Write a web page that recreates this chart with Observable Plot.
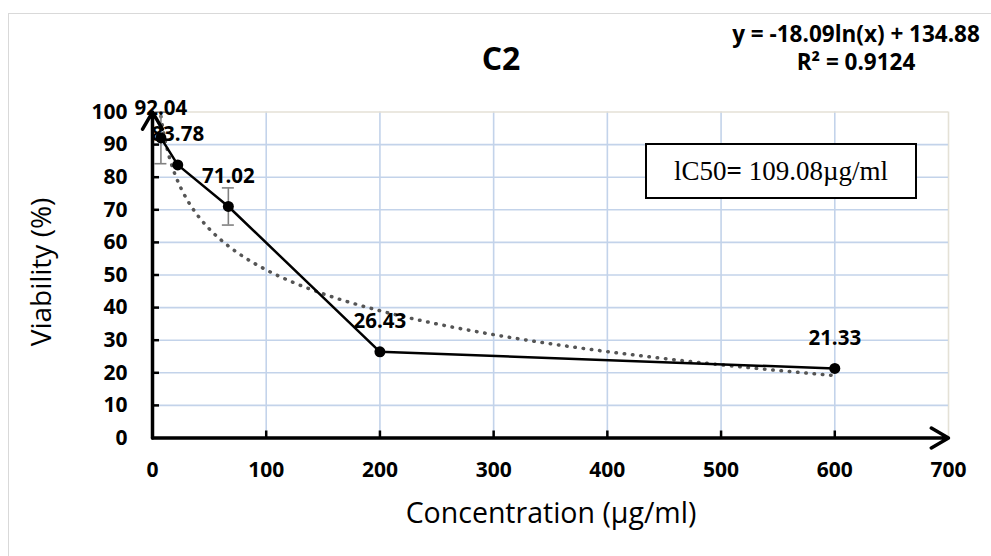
<!DOCTYPE html>
<html>
<head>
<meta charset="utf-8">
<script src="https://cdn.jsdelivr.net/npm/d3@7"></script>
<script src="https://cdn.jsdelivr.net/npm/@observablehq/plot@0.6"></script>
<style>
  html, body { margin: 0; padding: 0; background: #fff; overflow: hidden; }
  #wrap { position: relative; width: 991px; height: 556px; font-family: "Open Sans", sans-serif; color: #000; }
  #chart { position: absolute; left: 0; top: 0; }
  #border { position: absolute; left: 8px; top: 13px; width: 1100px; height: 700px; border: 1.5px solid #d9d9d9; pointer-events: none; }
  #title { position: absolute; left: 401px; width: 200px; top: 37px; line-height: 42px; text-align: center; font-size: 32px; font-weight: bold; }
  #eq { position: absolute; left: 706px; width: 300px; top: 20px; line-height: 28px; text-align: center; font-size: 22.5px; font-weight: bold; }
  #box { position: absolute; left: 645px; top: 143px; width: 272px; height: 56px; box-sizing: border-box; border: 2px solid #000; background: #fff;
         display: flex; align-items: center; justify-content: center; font-family: "Liberation Serif", serif; font-size: 27px; }
  #xlab { position: absolute; left: 301px; width: 500px; top: 493px; line-height: 38px; text-align: center; font-size: 28.5px; }
  #ylab { position: absolute; left: 40px; top: 272px; transform: translate(-50%, -50%) rotate(-90deg); white-space: nowrap; font-size: 28px; line-height: 38px; }
</style>
</head>
<body>
<div id="wrap">
  <div id="chart"></div>
  <div id="border"></div>
  <div id="title"></div>
  <div id="eq"></div>
  <div id="box"></div>
  <div id="xlab"></div>
  <div id="ylab"></div>
</div>
<script>
// ---- data ----
const concentrations = [7.4, 22.2, 66.7, 200, 600];
const viability = [92.04, 83.78, 71.02, 26.43, 21.33];
const errorBars = [7.9, 0, 5.7, 0, 0];
const xTicks = [0, 100, 200, 300, 400, 500, 600, 700];
const yTicks = [0, 10, 20, 30, 40, 50, 60, 70, 80, 90, 100];
// logarithmic trendline shown on the chart: y = -18.09 ln(x) + 134.88
const trendSlope = -18.09;
const trendIntercept = 134.88;
const trendR2 = 0.9124;
const trendX = [7.4, 9, 11, 13, 16, 20, 25, 30, 40, 50, 65, 80, 100, 125, 150, 200, 250, 300, 350, 400, 450, 500, 550, 600];
const chartTitle = "C2";
const xTitle = "Concentration (µg/ml)";
const yTitle = "Viability (%)";
const ic50 = "109.08";

const pts = concentrations.map((c, i) => ({x: c, y: viability[i], e: errorBars[i]}));
const errPts = pts.filter(d => d.e > 0);
const trend = trendX.map(x => ({x, y: trendSlope * Math.log(x) + trendIntercept}));

const blueGrid = "#c3d3ea";
const edgeGrid = "#e4e1d6";

const plot = Plot.plot({
  width: 991,
  height: 556,
  marginLeft: 152,
  marginRight: 43,
  marginTop: 111.5,
  marginBottom: 118.5,
  x: {domain: [xTicks[0], xTicks[xTicks.length - 1]]},
  y: {domain: [yTicks[0], yTicks[yTicks.length - 1]]},
  style: {background: "transparent", fontFamily: "'Open Sans', sans-serif", overflow: "visible", color: "#000"},
  marks: [
    Plot.ruleX(xTicks.slice(1, -1), {stroke: blueGrid, strokeWidth: 1.6}),
    Plot.ruleX(xTicks.slice(-1), {stroke: edgeGrid, strokeWidth: 1.6}),
    Plot.ruleY(yTicks.slice(1, -1), {stroke: blueGrid, strokeWidth: 1.6}),
    Plot.ruleY(yTicks.slice(-1), {stroke: edgeGrid, strokeWidth: 1.6}),
    Plot.axisX({ticks: xTicks, tickSize: 0, tickPadding: 24, fontSize: 21, fontWeight: "bold", label: null}),
    Plot.axisY({ticks: yTicks, tickSize: 0, tickPadding: 25, fontSize: 21, fontWeight: "bold", label: null}),
    Plot.line(trend, {x: "x", y: "y", stroke: "#555", strokeWidth: 3.5, strokeDasharray: "0.5,7.8", strokeLinecap: "round", curve: "monotone-x"}),
    Plot.ruleX(errPts, {x: "x", y1: d => d.y - d.e, y2: d => d.y + d.e, stroke: "#808080", strokeWidth: 1.6}),
    Plot.ruleY(errPts, {y: d => d.y + d.e, x1: "x", x2: "x", insetLeft: -6, insetRight: -6, stroke: "#808080", strokeWidth: 1.6}),
    Plot.ruleY(errPts, {y: d => d.y - d.e, x1: "x", x2: "x", insetLeft: -6, insetRight: -6, stroke: "#808080", strokeWidth: 1.6}),
    Plot.line(pts, {x: "x", y: "y", stroke: "#000", strokeWidth: 2.5}),
    Plot.dot(pts, {x: "x", y: "y", r: 5.5, fill: "#000", stroke: null}),
    Plot.text(pts, {x: "x", y: "y", text: d => d.y.toFixed(2), dy: -30, fontSize: 20.5, fontWeight: "bold", fill: "#000"}),
    Plot.ruleX(xTicks.slice(1, -1), {x: d => d, y1: yTicks[0], y2: yTicks[0], insetTop: -7, stroke: "#000", strokeWidth: 2.5}),
    Plot.ruleY(yTicks.slice(1, -1), {y: d => d, x1: xTicks[0], x2: xTicks[0], insetRight: -7, stroke: "#000", strokeWidth: 2.5}),
    Plot.arrow([{x1: xTicks[0], y1: yTicks[0], x2: xTicks[xTicks.length - 1], y2: yTicks[0]}],
      {x1: "x1", y1: "y1", x2: "x2", y2: "y2", stroke: "#000", strokeWidth: 3.5, headLength: 8.5, headAngle: 60}),
    Plot.arrow([{x1: xTicks[0], y1: yTicks[0], x2: xTicks[0], y2: yTicks[yTicks.length - 1]}],
      {x1: "x1", y1: "y1", x2: "x2", y2: "y2", stroke: "#000", strokeWidth: 3.5, headLength: 8.5, headAngle: 60})
  ]
});
document.getElementById("chart").appendChild(plot);

document.getElementById("title").textContent = chartTitle;
document.getElementById("eq").innerHTML = `y = ${trendSlope.toFixed(2)}ln(x) + ${trendIntercept.toFixed(2)}<br>R² = ${trendR2}`;
document.getElementById("box").innerHTML = `lC50<b>=</b>&nbsp;${ic50}µg/ml`;
document.getElementById("xlab").textContent = xTitle;
document.getElementById("ylab").textContent = yTitle;
</script>
</body>
</html>
